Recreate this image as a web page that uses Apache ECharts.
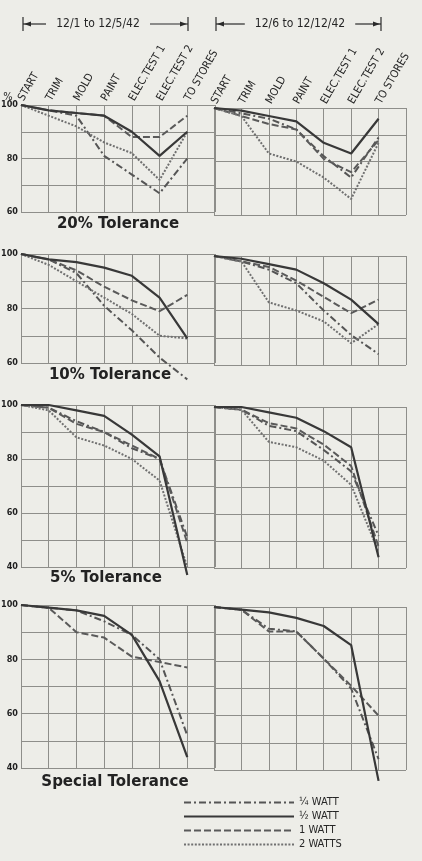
<!DOCTYPE html>
<html><head><meta charset="utf-8">
<script src="https://cdn.jsdelivr.net/npm/echarts@6/dist/echarts.min.js"></script>
<style>html,body{margin:0;padding:0;background:#edede8;} #c{width:422px;height:861px;}</style>
</head><body><div id="c"></div>
<script>
// ---------- data ----------
const categories = ['START', 'TRIM', 'MOLD', 'PAINT', 'ELEC.TEST 1', 'ELEC.TEST 2', 'TO STORES', ''];
const seriesNames = ['¼ WATT', '½ WATT', '1 WATT', '2 WATTS'];
const periods = ['12/1 to 12/5/42', '12/6 to 12/12/42'];
const tolerances = ['20% Tolerance', '10% Tolerance', '5% Tolerance', 'Special Tolerance'];

// 20% tolerance
const t20a_quarter = [100, 98, 96, 81, 74, 67, 80];
const t20a_half    = [100, 98, 97, 96, 90, 81, 90];
const t20a_one     = [100, 98, 97, 96, 88, 88, 96];
const t20a_two     = [100, 96, 92, 86, 82, 72, 90];
const t20b_quarter = [100, 98, 96, 92, 82, 74, 89];
const t20b_half    = [100, 99, 97, 95, 87, 83, 96];
const t20b_one     = [100, 97, 94, 92, 81, 76, 88];
const t20b_two     = [100, 97, 83, 80, 74, 66, 87];
// 10% tolerance
const t10a_quarter = [100, 98, 93, 81, 72, 62, 54];
const t10a_half    = [100, 98, 97, 95, 92, 84, 69];
const t10a_one     = [100, 98, 94, 88, 83, 79, 85];
const t10a_two     = [100, 96, 90, 84, 78, 70, 69];
const t10b_quarter = [100, 98, 95, 90, 80, 71, 64];
const t10b_half    = [100, 99, 97, 95, 90, 84, 75];
const t10b_one     = [100, 98, 96, 91, 85, 79, 84];
const t10b_two     = [100, 98, 83, 80, 76, 68, 75];
// 5% tolerance
const t5a_quarter  = [100, 99, 94, 90, 84, 80, 51];
const t5a_half     = [100, 100, 98, 96, 89, 81, 37];
const t5a_one      = [100, 99, 93, 90, 85, 80, 49];
const t5a_two      = [100, 98, 88, 85, 80, 72, 40];
const t5b_quarter  = [100, 99, 93, 91, 84, 76, 52];
const t5b_half     = [100, 100, 98, 96, 91, 85, 44];
const t5b_one      = [100, 99, 94, 92, 86, 78, 48];
const t5b_two      = [100, 99, 87, 85, 80, 71, 46];
// special tolerance
const tsa_quarter  = [100, 99, 98, 94, 89, 80, 52];
const tsa_half     = [100, 99, 98, 96, 89, 72, 44];
const tsa_one      = [100, 99, 90, 88, 81, 79, 77];
const tsa_two      = [];
const tsb_quarter  = [100, 99, 92, 91, 81, 70, 44];
const tsb_half     = [100, 99, 98, 96, 93, 86, 36];
const tsb_one      = [100, 99, 91, 91, 81, 71, 60];
const tsb_two      = [];

const yMins = [60, 60, 40, 40];

// ---------- layout / style ----------
const FONT = "'DejaVu Sans Condensed','DejaVu Sans',sans-serif";
const GRIDC = '#8e8e8a';
const TXT = '#262626';
const panels = [
  [[t20a_quarter, t20a_half, t20a_one, t20a_two], [t20b_quarter, t20b_half, t20b_one, t20b_two]],
  [[t10a_quarter, t10a_half, t10a_one, t10a_two], [t10b_quarter, t10b_half, t10b_one, t10b_two]],
  [[t5a_quarter, t5a_half, t5a_one, t5a_two], [t5b_quarter, t5b_half, t5b_one, t5b_two]],
  [[tsa_quarter, tsa_half, tsa_one, tsa_two], [tsb_quarter, tsb_half, tsb_one, tsb_two]]
];
const tops = [[105, 108], [254, 256], [405, 407], [605, 607]];
const heights = [[107, 107], [109, 109], [162, 161], [163, 163]];
const lefts = [21, 214], widths = [194, 192];
const lineStyles = [
  { type: [7, 3, 2, 3], color: '#555555', width: 2 },
  { type: 'solid', color: '#383838', width: 2.2 },
  { type: [7, 3], color: '#5a5a5a', width: 2 },
  { type: [2, 1.6], color: '#707070', width: 2 }
];

const grid = [], xAxis = [], yAxis = [], series = [];
let gi = 0;
for (let r = 0; r < 4; r++) {
  for (let c = 0; c < 2; c++) {
    grid.push({ left: lefts[c], top: tops[r][c], width: widths[c], height: heights[r][c],
      containLabel: false, outerBoundsMode: 'none' });
    xAxis.push({
      type: 'category', gridIndex: gi, data: categories, boundaryGap: false,
      position: r === 0 ? 'top' : 'bottom',
      axisLine: { show: false }, axisTick: { show: false },
      axisLabel: { show: r === 0, interval: 0, rotate: -60, margin: 5, fontSize: 11,
        fontFamily: FONT, color: TXT, hideOverlap: false },
      splitLine: { show: true, showMinLine: true, showMaxLine: true, lineStyle: { color: GRIDC, width: 1 } }
    });
    yAxis.push({
      type: 'value', gridIndex: gi, min: yMins[r], max: 100, interval: 10,
      axisLine: { show: true, lineStyle: { color: GRIDC, width: 1 } }, axisTick: { show: false },
      axisLabel: { show: c === 0, margin: 3, fontSize: 9, fontWeight: 'bold', fontFamily: FONT, color: '#1e1e1e',
        formatter: v => (v % 20 === 0 ? String(v) : ''), hideOverlap: false },
      splitLine: { show: true, showMinLine: true, showMaxLine: true, lineStyle: { color: GRIDC, width: 1 } }
    });
    panels[r][c].forEach((arr, si) => {
      if (!arr.length) return;
      series.push({
        type: 'line', name: seriesNames[si], xAxisIndex: gi, yAxisIndex: gi, data: arr,
        symbol: 'none', clip: false, z: si === 1 ? 4 : 3,
        color: lineStyles[si].color,
        lineStyle: Object.assign({}, lineStyles[si]),
        emphasis: { disabled: true }
      });
    });
    gi++;
  }
}

function header(x0, x1, textCenter, text, y) {
  const tw = text.length * 6.4 / 2 + 4;
  return [
    { type: 'line', shape: { x1: x0, y1: y - 7, x2: x0, y2: y + 7 }, style: { stroke: '#2a2a2a', lineWidth: 1.2 } },
    { type: 'line', shape: { x1: x0, y1: y, x2: textCenter - tw, y2: y }, style: { stroke: '#2a2a2a', lineWidth: 1.2 } },
    { type: 'polygon', shape: { points: [[x0 + 1, y], [x0 + 8, y - 2.5], [x0 + 8, y + 2.5]] }, style: { fill: '#2a2a2a' } },
    { type: 'text', x: textCenter, y: y, style: { text: text, font: "12px " + FONT, fill: TXT, align: 'center', verticalAlign: 'middle' } },
    { type: 'line', shape: { x1: textCenter + tw, y1: y, x2: x1, y2: y }, style: { stroke: '#2a2a2a', lineWidth: 1.2 } },
    { type: 'polygon', shape: { points: [[x1 - 1, y], [x1 - 8, y - 2.5], [x1 - 8, y + 2.5]] }, style: { fill: '#2a2a2a' } },
    { type: 'line', shape: { x1: x1, y1: y - 7, x2: x1, y2: y + 7 }, style: { stroke: '#2a2a2a', lineWidth: 1.2 } }
  ];
}

const tolPos = [[118, 224], [110, 375], [106, 578], [115, 782]];
const graphic = [].concat(
  header(23, 188, 98, periods[0], 24),
  header(216, 381, 300, periods[1], 24),
  [{ type: 'text', x: 8, y: 97, style: { text: '%', font: "11px " + FONT, fill: TXT, align: 'center', verticalAlign: 'middle' } }],
  tolerances.map((t, i) => ({ type: 'text', x: tolPos[i][0], y: tolPos[i][1],
    style: { text: t, font: "bold 15px 'DejaVu Sans',sans-serif", fill: '#222', align: 'center', verticalAlign: 'middle' } }))
);

const chart = echarts.init(document.getElementById('c'), null, { renderer: 'canvas' });
chart.setOption({
  backgroundColor: '#edede8',
  animation: false,
  grid, xAxis, yAxis, series, graphic,
  legend: {
    orient: 'vertical', left: 183, top: 797, padding: 0, itemWidth: 110, itemHeight: 10, itemGap: 3,
    data: seriesNames, selectedMode: false,
    itemStyle: { opacity: 0 },
    textStyle: { fontSize: 11, fontFamily: FONT, color: TXT, lineHeight: 10 }
  }
});
</script></body></html>
